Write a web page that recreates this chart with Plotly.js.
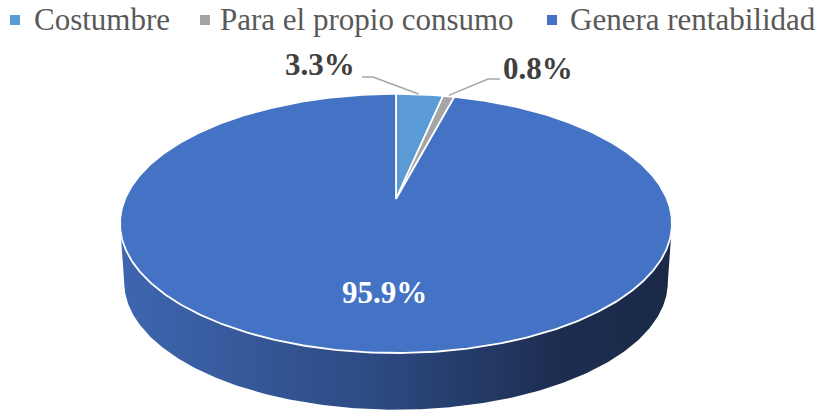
<!DOCTYPE html>
<html><head><meta charset="utf-8">
<script src="https://cdn.plot.ly/plotly-3.0.1.min.js"></script>
<style>html,body{margin:0;padding:0;background:#fff}#chart{width:823px;height:417px}</style>
</head><body><div id="chart"></div>
<script>
const categories = ['Costumbre', 'Para el propio consumo', 'Genera rentabilidad'];
const values = [3.3, 0.8, 95.9];
const colors = ['#5B9BD5', '#A5A5A5', '#4472C4'];

// geometry of the tilted (perspective) disc, in pixel units
const G = {cx: 396, cy: 199, s: 271, s2: 124.9, k: 0.189, depth: 59, shrink: 0.985};
function proj(theta, dy, sc) {
  const u = Math.sin(theta), v = -Math.cos(theta);
  const d = 1 - G.k * v;
  return [G.cx + sc * G.s * u / d, G.cy + dy + sc * G.s2 * v / d];
}
function arc(a0, a1, dy, sc) {
  const pts = [];
  const n = Math.max(2, Math.ceil(Math.abs(a1 - a0) / 0.01));
  for (let i = 0; i <= n; i++) pts.push(proj(a0 + (a1 - a0) * i / n, dy, sc));
  return pts;
}
const total = values.reduce((a, b) => a + b, 0);
const traces = [];

// side band (front)
const tR = Math.acos(-G.k), tL = 2 * Math.PI - tR;
const sidePts = arc(tR, tL, 0, 1).concat(arc(tL, tR, G.depth, G.shrink));
traces.push({
  x: sidePts.map(p => p[0]), y: sidePts.map(p => p[1]),
  mode: 'lines', fill: 'toself', line: {width: 0},
  fillgradient: {type: 'horizontal', colorscale: [[0, '#3e66b0'], [0.45, '#2d4b83'], [0.8, '#1d2d50'], [1, '#1a2947']]},
  hoverinfo: 'skip', showlegend: false
});

// top face slices
let acc = 0;
const mids = [];
values.forEach((v, i) => {
  const a0 = acc / total * 2 * Math.PI;
  acc += v;
  const a1 = acc / total * 2 * Math.PI;
  mids.push((a0 + a1) / 2);
  const pts = [[G.cx, G.cy]].concat(arc(a0, a1, 0, 1)).concat([[G.cx, G.cy]]);
  traces.push({
    x: pts.map(p => p[0]), y: pts.map(p => p[1]),
    mode: 'lines', fill: 'toself', fillcolor: colors[i],
    line: {color: '#ffffff', width: 1.8},
    name: categories[i], hoverinfo: 'skip', showlegend: false
  });
});

const fmt = v => v.toFixed(1) + '%';
const FS = 31;
const labelFont = {family: 'Liberation Serif', size: FS, color: '#404040', weight: 'bold'};
const e0 = proj(mids[0], 0, 1), e1 = proj(mids[1], 0, 1);
const annotations = [
  {x: 320, y: 64, text: fmt(values[0]), showarrow: false, font: labelFont, xref: 'x', yref: 'y'},
  {x: 538, y: 68, text: fmt(values[1]), showarrow: false, font: labelFont, xref: 'x', yref: 'y'},
  {x: 384.5, y: 292, text: fmt(values[2]), showarrow: false, xref: 'x', yref: 'y',
   font: {family: 'Liberation Serif', size: FS, color: '#ffffff', weight: 'bold'}}
];
const shapes = [
  {type: 'path', xref: 'x', yref: 'y', path: `M362,77 L373,77 L${e0[0] - 1},${e0[1] - 0.5}`, line: {color: '#A6A6A6', width: 1.5}},
  {type: 'path', xref: 'x', yref: 'y', path: `M500,79 L488,79 L${e1[0]},${e1[1] - 1}`, line: {color: '#A6A6A6', width: 1.5}}
];

// legend (symbols + text)
const legendMarkX = [15, 205, 552];
const legendTextX = [32, 218, 568];
categories.forEach((c, i) => {
  shapes.push({type: 'rect', xref: 'x', yref: 'y', x0: legendMarkX[i] - 5, x1: legendMarkX[i] + 5, y0: 15, y1: 25,
    fillcolor: colors[i], line: {width: 0}});
  annotations.push({x: legendTextX[i], y: 19, xanchor: 'left', text: c, showarrow: false, xref: 'x', yref: 'y',
    font: {family: 'Liberation Serif', size: FS, color: '#595959'}});
});

const layout = {
  width: 823, height: 417,
  margin: {l: 0, r: 0, t: 0, b: 0, pad: 0, autoexpand: false},
  paper_bgcolor: '#ffffff', plot_bgcolor: '#ffffff',
  xaxis: {range: [0, 823], visible: false, fixedrange: true},
  yaxis: {range: [417, 0], visible: false, fixedrange: true},
  showlegend: false,
  annotations: annotations, shapes: shapes
};
Plotly.newPlot('chart', traces, layout, {displayModeBar: false, staticPlot: true});
</script></body></html>
